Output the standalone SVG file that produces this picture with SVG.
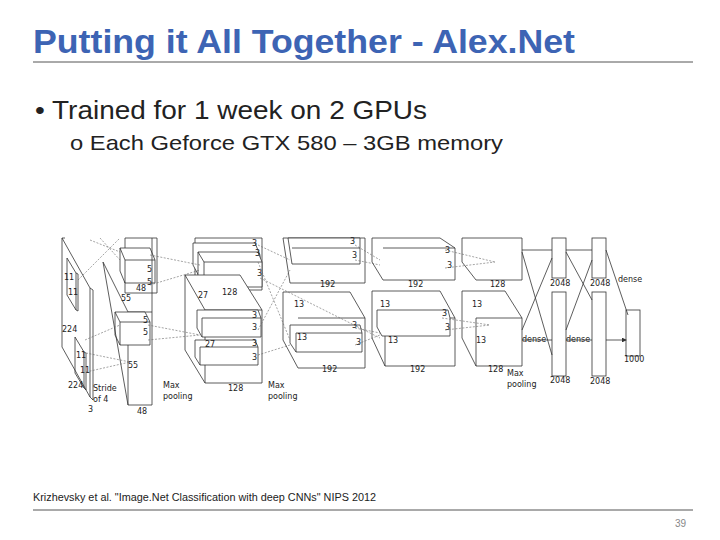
<svg xmlns="http://www.w3.org/2000/svg" width="720" height="540" viewBox="0 0 720 540">
<style>
.t{font-family:"Liberation Sans",Arial,sans-serif}
.s{font-family:"DejaVu Sans",sans-serif;font-size:8px;fill:#222}
.b{fill:#fff;stroke:#333;stroke-width:0.8}
.l{fill:none;stroke:#333;stroke-width:0.8}
.d{fill:none;stroke:#666;stroke-width:0.6;stroke-dasharray:2,1.5}
</style>
<defs><marker id="a" markerWidth="6" markerHeight="6" refX="5" refY="3" orient="auto"><path d="M0,0L6,3L0,6z" fill="#333"/></marker></defs>
<rect width="720" height="540" fill="#fff"/>
<text class="t" x="33" y="53" font-size="33" font-weight="bold" fill="#3d64b4" textLength="542" lengthAdjust="spacingAndGlyphs">Putting it All Together - Alex.Net</text>
<line x1="33" y1="62" x2="693" y2="62" stroke="#555" stroke-width="1"/>
<text class="t" x="35" y="119" font-size="26" fill="#222" textLength="392" lengthAdjust="spacingAndGlyphs">• Trained for 1 week on 2 GPUs</text>
<text class="t" x="70" y="150" font-size="21" fill="#222" textLength="433" lengthAdjust="spacingAndGlyphs">o Each Geforce GTX 580 – 3GB memory</text>
<g id="figure">
<g id="input">
<path class="l" d="M62,238L90,288L90,397L62,347Z M90,288L93,290L93,400L90,397 M62,238L65,238"/>
<path class="l" d="M67,258L76,273L76,310L67,295Z M76,273L78,274L78,311L76,310"/>
<path class="l" d="M75,337L84,352L84,388L75,373Z M84,352L86,353L86,390L84,388"/>
<text class="s" x="64" y="280">11</text><text class="s" x="68" y="295">11</text>
<text class="s" x="76" y="358">11</text><text class="s" x="80" y="373">11</text>
<text class="s" x="62" y="332">224</text><text class="s" x="68" y="388">224</text>
<text class="s" x="93" y="391">Stride</text><text class="s" x="93" y="402">of 4</text>
<text class="s" x="88" y="412">3</text>
</g>
<g id="conv1">
<path class="b" d="M125,238L157,238L157,293L125,293Z"/>
<path class="b" d="M120,248L150,248L155,260L155,283L125,283L120,271Z M125,260L155,260 M125,260L125,283 M120,248L125,260"/>
<path class="l" d="M103,262L128,312 M152,312L152,238"/>
<path class="b" d="M128,312L152,312L152,405L128,405Z"/>
<path class="b" d="M115,312L145,312L150,322L150,345L120,345L115,335Z M120,322L150,322 M120,322L120,345 M115,312L120,322"/>
<path class="l" d="M103,262L128,405"/>
<text class="s" x="147" y="272">5</text><text class="s" x="147" y="285">5</text>
<text class="s" x="143" y="323">5</text><text class="s" x="143" y="335">5</text>
<text class="s" x="136" y="291">48</text><text class="s" x="121" y="301">55</text>
<text class="s" x="128" y="368">55</text><text class="s" x="137" y="414">48</text>
<text class="s" x="163" y="388">Max</text><text class="s" x="163" y="399">pooling</text>
</g>
<g id="conv2">
<path class="b" d="M195,238L262,238L262,290L195,290Z"/>
<path class="b" d="M193,243L255,243L260,255L260,278L200,278L193,265Z"/>
<path class="b" d="M198,252L258,252L262,262L262,287L204,287L198,275Z M204,262L262,262 M204,262L204,287 M198,252L204,262"/>
<path class="b" d="M185,275L240,275L262,310L262,383L205,383L185,350Z M205,310L262,310 M205,310L205,383 M185,275L205,310"/>
<path class="b" d="M197,310L258,310L261,318L261,337L202,337L197,328Z M202,318L261,318 M202,318L202,337"/>
<path class="b" d="M195,340L255,340L258,347L258,365L200,365L195,357Z M200,347L258,347 M200,347L200,365"/>
<text class="s" x="252" y="246">3</text><text class="s" x="255" y="256">3</text><text class="s" x="257" y="276">3</text>
<text class="s" x="252" y="318">3</text><text class="s" x="252" y="330">3</text><text class="s" x="252" y="346">3</text><text class="s" x="252" y="360">3</text>
<text class="s" x="198" y="298">27</text><text class="s" x="205" y="347">27</text>
<text class="s" x="222" y="295">128</text><text class="s" x="228" y="391">128</text>
<text class="s" x="268" y="388">Max</text><text class="s" x="268" y="399">pooling</text>
</g>
<g id="conv3">
<path class="b" d="M283,238L365,238L365,283L290,283Z"/>
<path class="b" d="M288,238L360,238L360,264L292,264Z M292,248L360,248"/>
<path class="b" d="M283,292L350,292L365,318L365,368L298,368L283,340Z M298,318L365,318"/>
<path class="b" d="M290,325L360,325L362,333L362,352L296,352L290,343Z M296,333L362,333 M296,333L296,352"/>
<text class="s" x="350" y="244">3</text><text class="s" x="352" y="258">3</text>
<text class="s" x="352" y="328">3</text><text class="s" x="356" y="345">3</text>
<text class="s" x="294" y="307">13</text><text class="s" x="297" y="340">13</text>
<text class="s" x="320" y="287">192</text><text class="s" x="322" y="372">192</text>
</g>
<g id="conv4">
<path class="b" d="M372,238L440,238L455,248L455,280L383,280L372,262Z M383,248L455,248"/>
<path class="b" d="M372,291L440,291L455,318L455,366L385,366L372,338Z M385,318L455,318 M385,318L385,366"/>
<path class="b" d="M377,310L448,310L450,318L450,336L382,336L377,327Z"/>
<text class="s" x="445" y="253">3</text><text class="s" x="447" y="268">3</text>
<text class="s" x="442" y="316">3</text><text class="s" x="445" y="330">3</text>
<text class="s" x="380" y="307">13</text><text class="s" x="388" y="343">13</text>
<text class="s" x="408" y="287">192</text><text class="s" x="410" y="372">192</text>
</g>
<g id="conv5">
<path class="b" d="M462,238L522,238L522,280L476,280L462,262Z"/>
<path class="b" d="M462,291L505,291L522,318L522,366L476,366L462,338Z M476,318L522,318 M476,318L476,366"/>
<text class="s" x="472" y="307">13</text><text class="s" x="476" y="343">13</text>
<text class="s" x="490" y="287">128</text><text class="s" x="488" y="372">128</text>
<text class="s" x="507" y="376">Max</text><text class="s" x="507" y="387">pooling</text>
</g>
<g id="dense">
<rect class="b" x="552" y="238" width="14" height="40"/><rect class="b" x="552" y="292" width="14" height="84"/>
<rect class="b" x="592" y="238" width="14" height="40"/><rect class="b" x="592" y="292" width="14" height="84"/>
<rect class="b" x="626" y="310" width="14" height="46"/>
<text class="s" x="550" y="286">2048</text><text class="s" x="590" y="286">2048</text>
<text class="s" x="550" y="383">2048</text><text class="s" x="590" y="384">2048</text>
<text class="s" x="624" y="362">1000</text>
<text class="s" x="522" y="342">dense</text><text class="s" x="566" y="342">dense</text><text class="s" x="618" y="282">dense</text>
</g>
</g>
<g id="connectors">
<path class="d" d="M90,240L120,252 M100,238L120,260 M78,280L120,238 M86,353L130,362 M86,372L130,362 M85,340L120,325"/>
<path class="d" d="M150,255L200,265 M150,285L200,270 M148,325L200,335 M148,340L200,335"/>
<path class="d" d="M258,245L290,260 M258,262L290,340 M258,330L290,270 M258,355L290,345 M260,278L380,338"/>
<path class="d" d="M355,245L380,260 M355,260L380,265 M355,328L380,333 M355,345L380,335"/>
<path class="d" d="M445,250L495,262 M445,268L495,262 M442,318L490,325 M445,330L490,325"/>
<path class="l" marker-end="url(#a)" d="M522,250L552,250 M522,252L552,355 M522,340L552,340 M522,330L552,258 M566,250L592,250 M566,252L592,300 M566,340L592,340 M566,330L592,260 M606,250L628,315 M606,340L626,340"/>
</g>
<text class="t" x="33" y="501" font-size="10" fill="#222" textLength="343" lengthAdjust="spacingAndGlyphs">Krizhevsky et al. "Image.Net Classification with deep CNNs" NIPS 2012</text>
<line x1="33" y1="510" x2="693" y2="510" stroke="#555" stroke-width="1"/>
<text class="t" x="686" y="527" font-size="10" fill="#888" text-anchor="end">39</text>
</svg>
